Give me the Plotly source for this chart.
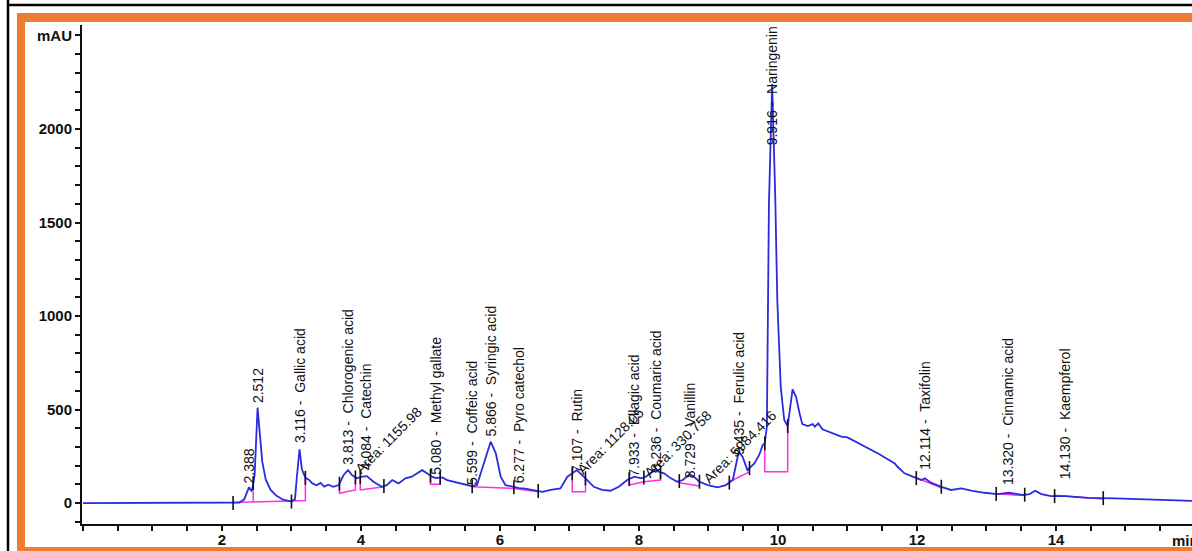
import numpy as np
import plotly.graph_objects as go

# ---- chromatogram trace (retention time in min, absorbance in mAU) ----
time_min = [0.0, 2.16, 2.25, 2.32, 2.388, 2.43, 2.47, 2.512, 2.54, 2.58, 2.63, 2.70, 2.78, 2.88,
            3.0, 3.05, 3.08, 3.116, 3.15, 3.20, 3.25, 3.30, 3.36, 3.42, 3.47, 3.53, 3.60, 3.68,
            3.75, 3.813, 3.87, 3.94, 4.0, 4.084, 4.18, 4.30, 4.37, 4.45, 4.54, 4.64, 4.73, 4.81,
            4.88, 4.95, 5.02, 5.080, 5.17, 5.24, 5.33, 5.46, 5.599, 5.67, 5.74, 5.866, 5.94, 6.01,
            6.08, 6.20, 6.277, 6.34, 6.49, 6.61, 6.73, 6.87, 6.97, 7.107, 7.23, 7.35, 7.47, 7.59,
            7.71, 7.83, 7.933, 8.03, 8.10, 8.19, 8.236, 8.36, 8.46, 8.55, 8.63, 8.729, 8.79, 8.87,
            8.99, 9.13, 9.25, 9.35, 9.39, 9.435, 9.49, 9.56, 9.66, 9.73, 9.78, 9.81, 9.84, 9.87,
            9.916, 9.96, 9.99, 10.04, 10.09, 10.14, 10.21, 10.26, 10.31, 10.35, 10.43, 10.50,
            10.53, 10.58, 10.64, 10.76, 10.91, 11.00, 11.15, 11.29, 11.44, 11.58, 11.68, 11.72,
            11.82, 11.94, 12.06, 12.114, 12.2, 12.35, 12.49, 12.64, 12.78, 12.97, 13.16, 13.320,
            13.52, 13.62, 13.70, 13.79, 13.93, 14.130, 14.46, 14.85, 15.33, 15.71, 15.96]
absorbance = [0, 0, 3, 20, 84, 62, 150, 510, 380, 220, 125, 70, 40, 18,
              8, 20, 150, 287, 180, 135, 125, 105, 95, 108, 88, 98, 87, 96,
              150, 176, 150, 132, 140, 144, 114, 87, 96, 123, 105, 132, 141, 159,
              176, 159, 141, 134, 137, 123, 114, 102, 90, 96, 176, 328, 266, 141,
              96, 84, 80, 78, 70, 60, 70, 78, 141, 176, 132, 87, 70, 66,
              87, 123, 141, 132, 141, 167, 173, 159, 132, 114, 123, 155, 141, 114,
              96, 84, 96, 123, 194, 274, 248, 176, 212, 257, 310, 319, 408, 1600,
              2240, 1650, 1086, 620, 444, 412, 608, 568, 480, 422, 412, 422,
              408, 426, 394, 376, 355, 351, 322, 292, 265, 234, 212, 194,
              159, 141, 123, 132, 109, 87, 70, 78, 66, 55, 48, 55,
              43, 48, 66, 48, 37, 37, 28, 25, 21, 16, 12]

# ---- identified peaks ----
peak_times = [2.388, 2.512, 3.116, 3.813, 4.084, 5.080, 5.599, 5.866, 6.277, 7.107,
              7.933, 8.236, 8.729, 9.435, 9.916, 12.114, 13.320, 14.130]
peak_names = ["", "", "Gallic acid", "Chlorogenic acid", "Catechin", "Methyl gallate",
              "Coffeic acid", "Syringic acid", "Pyro catechol", "Rutin", "Ellagic acid",
              "Coumaric acid", "Vanillin", "Ferulic acid", "Naringenin", "Taxifolin",
              "Cinnamic acid", "Kaempferol"]
label_base = [96, 524, 310, 194, 167, 141, 87, 346, 96, 150,
              132, 159, 123, 248, 1900, 167, 87, 114]

# ---- area call-outs ----
area_text = ["Area: 1155.98", "Area: 1128.05", "Area: 330.758", "Area: 5984.416"]
area_time = [4.40, 7.59, 8.56, 9.45]
area_level = [337, 332, 315, 300]

# ---- integration events and baselines ----
event_times = [2.16, 2.45, 3.0, 3.20, 3.69, 3.92, 3.99, 4.33, 5.0, 5.14, 5.60, 6.20, 6.55,
               7.04, 7.23, 7.86, 8.07, 8.31, 8.58, 8.87, 9.30, 9.59, 9.81, 10.14,
               11.99, 12.35, 13.14, 13.55, 13.98, 14.68]
baselines = [
    [(2.16, 3), (3.20, 14), (3.20, 135)],
    [(2.45, 5), (2.45, 62)],
    [(3.69, 96), (3.69, 52), (3.92, 70), (3.92, 125)],
    [(3.99, 135), (3.99, 70), (4.33, 87)],
    [(5.0, 141), (5.0, 100), (5.14, 100), (5.14, 135)],
    [(5.60, 87), (6.20, 78), (6.55, 60)],
    [(7.04, 155), (7.04, 60), (7.23, 60), (7.23, 132)],
    [(7.86, 141), (7.86, 96), (8.07, 114), (8.31, 123), (8.31, 165)],
    [(8.58, 109), (8.87, 91)],
    [(9.30, 114), (9.59, 167)],
    [(9.81, 310), (9.81, 167), (10.14, 167), (10.14, 412)],
    [(11.99, 135), (12.35, 82)],
    [(13.14, 50), (13.55, 40)],
    [(13.98, 42), (14.68, 22)],
]

x_ticks = [2, 4, 6, 8, 10, 12, 14]
y_ticks = [0, 500, 1000, 1500, 2000, 2500]
y_ticktext = ["0", "500", "1000", "1500", "2000", "mAU"]

W, H = 1192, 551
ML, MR, MT, MB = 82, 0, 25, 27
PW, PH = W - ML - MR, H - MT - MB

def px(xp):
    return (xp - ML) / PW

def py(yp):
    return (H - MB - yp) / PH

FONT = "Liberation Sans, Arial, sans-serif"
BLUE = "#2b2be0"
MAGENTA = "#ff2fe6"
ORANGE = "#ee7d31"

fig = go.Figure()

bx, by = [], []
for seg in baselines:
    for t, v in seg:
        bx.append(t)
        by.append(v)
    bx.append(None)
    by.append(None)
fig.add_trace(go.Scatter(x=bx, y=by, mode="lines",
                         line=dict(color=MAGENTA, width=1.5), hoverinfo="skip"))

fig.add_trace(go.Scatter(x=time_min, y=absorbance, mode="lines",
                         line=dict(color=BLUE, width=1.8), hoverinfo="skip"))

ev_y = np.interp(event_times, time_min, absorbance)
fig.add_trace(go.Scatter(x=event_times, y=ev_y, mode="markers",
                         marker=dict(symbol="line-ns", size=10,
                                     line=dict(color="#111111", width=1.6)),
                         hoverinfo="skip"))

annotations = []
for t, name, base in zip(peak_times, peak_names, label_base):
    text = f"{t:.3f}" if not name else f"{t:.3f} -  {name}"
    annotations.append(dict(x=t, y=base, xref="x", yref="y", text=text,
                            showarrow=False, textangle=-90, xanchor="center",
                            yanchor="bottom", font=dict(family=FONT, size=14, color="#111111")))

for txt, t, lvl in zip(area_text, area_time, area_level):
    annotations.append(dict(x=t, y=lvl, xref="x", yref="y", text=txt, showarrow=False,
                            textangle=-45, xanchor="center", yanchor="middle",
                            font=dict(family=FONT, size=14, color="#111111")))

annotations.append(dict(x=px(1170), y=py(540), xref="paper", yref="paper", text="min",
                        showarrow=False, xanchor="left", yanchor="middle",
                        font=dict(family=FONT, size=15, color="#111111", weight="bold")))

shapes = [
    # orange frame
    dict(type="rect", xref="paper", yref="paper", x0=px(17), x1=px(1200), y0=py(22), y1=py(13),
         fillcolor=ORANGE, line_width=0, layer="above"),
    dict(type="rect", xref="paper", yref="paper", x0=px(17), x1=px(25), y0=py(560), y1=py(13),
         fillcolor=ORANGE, line_width=0, layer="above"),
    dict(type="rect", xref="paper", yref="paper", x0=px(17), x1=px(1200), y0=py(560), y1=py(547),
         fillcolor=ORANGE, line_width=0, layer="above"),
    # outer cell borders
    dict(type="line", xref="paper", yref="paper", x0=px(7), x1=px(1200), y0=py(5), y1=py(5),
         line=dict(color="#000000", width=2.5), layer="above"),
    dict(type="line", xref="paper", yref="paper", x0=px(8), x1=px(8), y0=py(0), y1=py(560),
         line=dict(color="#000000", width=2.5), layer="above"),
]

fig.update_layout(
    width=W, height=H,
    margin=dict(l=ML, r=MR, t=MT, b=MB),
    paper_bgcolor="white", plot_bgcolor="white",
    showlegend=False,
    annotations=annotations,
    shapes=shapes,
    xaxis=dict(range=[-0.014, 15.957], tickvals=x_ticks, ticks="outside", ticklen=5,
               tickwidth=2, tickcolor="#111111", showline=True, linecolor="#111111",
               linewidth=2, showgrid=False, zeroline=False, ticklabelstandoff=-4,
               tickfont=dict(family=FONT, size=15, color="#111111", weight="bold"),
               minor=dict(dtick=0.5, tick0=0, ticks="outside", ticklen=5, tickwidth=2,
                          tickcolor="#111111", showgrid=False)),
    yaxis=dict(range=[-112, 2556], tickvals=y_ticks, ticktext=y_ticktext, ticks="outside",
               ticklen=5, tickwidth=2, tickcolor="#111111", showline=True,
               linecolor="#111111", linewidth=2, showgrid=False, zeroline=False,
               tickfont=dict(family=FONT, size=15, color="#111111", weight="bold"),
               minor=dict(dtick=100, ticks="outside", ticklen=5, tickwidth=2,
                          tickcolor="#111111", showgrid=False)),
)

fig.write_html("out.html")
